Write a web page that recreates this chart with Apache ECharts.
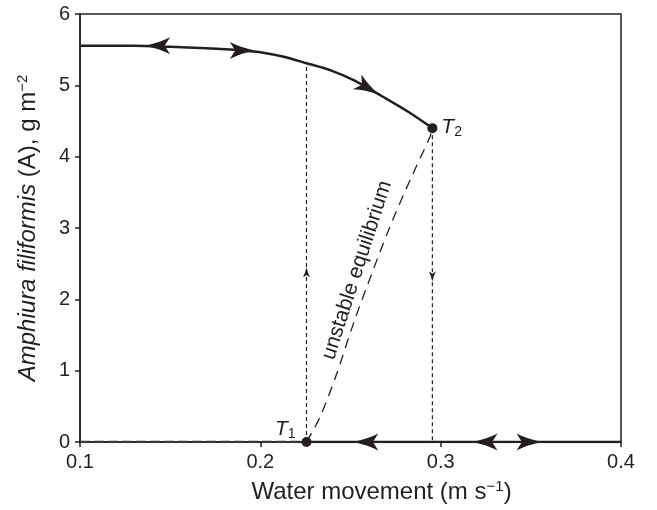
<!DOCTYPE html>
<html>
<head>
<meta charset="utf-8">
<script src="https://cdn.jsdelivr.net/npm/echarts@6/dist/echarts.min.js"></script>
<style>
  html, body { margin: 0; padding: 0; background: #fff; }
  #main { width: 657px; height: 510px; }
</style>
</head>
<body>
<div id="main"></div>
<script>
// thresholds T1 (lower) and T2 (upper)
var t1 = [0.2256, 0];
var t2 = [0.2954, 4.40];

// stable upper branch
var upperBranch = [
  [0.10, 5.555], [0.13, 5.555], [0.15, 5.54], [0.17, 5.52], [0.19, 5.49],
  [0.20, 5.465], [0.213, 5.40], [0.2256, 5.31], [0.239, 5.21], [0.252, 5.07],
  [0.268, 4.84], [0.282, 4.63], [0.2954, 4.40]
];

// unstable equilibrium (dashed)
var unstable = [
  [0.2256, 0], [0.2331, 0.35], [0.2424, 0.96], [0.2516, 1.66], [0.2618, 2.36],
  [0.2719, 3.02], [0.2830, 3.67], [0.2941, 4.28], [0.2954, 4.40]
];

// big arrows on the stable branches: [x, y, rotation]
var bigArrows = [
  [0.143, 5.555, 90], [0.19, 5.49, -90], [0.2597, 4.96, -120],
  [0.2585, 0, 90], [0.3246, 0, 90], [0.349, 0, -90]
];
// small arrows on the jump lines
var smallArrows = [
  [0.2256, 2.38, 0], [0.2954, 2.32, 180]
];

var xTicks = ['0.1', '0.2', '0.3', '0.4'];

var arrowPath = 'path://M8,0 Q10.8,13 16,23 L8,18 L0,23 Q5.2,13 8,0 Z';
var ink = '#231f20';
var font = 'Liberation Sans';

var myChart = echarts.init(document.getElementById('main'));

function arrowData(list){
  return list.map(function(a){
    return { value: [a[0], a[1]], symbolRotate: a[2] };
  });
}

var option = {
  animation: false,
  grid: {
    left: 80, right: 36, top: 14, bottom: 68,
    show: true, borderColor: ink, borderWidth: 1.5, backgroundColor: 'transparent'
  },
  xAxis: {
    type: 'value', min: 0.1, max: 0.4, interval: 0.1,
    name: '{n|Water movement (m s}{s|−1}{n|)}',
    nameLocation: 'middle', nameGap: 37,
    nameTextStyle: {
      fontFamily: font, fontSize: 24, color: ink, padding: [0, 0, 0, 62],
      rich: {
        n: { fontFamily: font, fontSize: 24, color: ink, lineHeight: 27 },
        s: { fontFamily: font, fontSize: 15, color: ink, verticalAlign: 'top', lineHeight: 15 }
      }
    },
    axisLine: { lineStyle: { color: ink, width: 1.5 } },
    axisTick: { length: 5, lineStyle: { color: ink, width: 1.5 } },
    axisLabel: {
      margin: 10, fontFamily: font, fontSize: 20, color: ink,
      formatter: function(v){ return xTicks[Math.round((v - 0.1) * 10)]; }
    },
    splitLine: { show: false }
  },
  yAxis: {
    type: 'value', min: 0, max: 6, interval: 1,
    name: '{i|Amphiura filiformis}{n| (A), g m}{s|−2}',
    nameLocation: 'middle', nameGap: 39, nameRotate: 90,
    nameTextStyle: {
      fontFamily: font, fontSize: 24, color: ink,
      rich: {
        i: { fontFamily: font, fontSize: 24, fontStyle: 'italic', color: ink, lineHeight: 26 },
        n: { fontFamily: font, fontSize: 24, color: ink, lineHeight: 26 },
        s: { fontFamily: font, fontSize: 15, color: ink, verticalAlign: 'top', lineHeight: 15 }
      }
    },
    axisLine: { lineStyle: { color: ink, width: 1.5 } },
    axisTick: { length: 5, lineStyle: { color: ink, width: 1.5 } },
    axisLabel: { margin: 10, fontFamily: font, fontSize: 20, color: ink },
    splitLine: { show: false }
  },
  series: [
    {
      type: 'line', data: upperBranch, smooth: 0.3, showSymbol: false,
      lineStyle: { color: ink, width: 2.5 }, z: 3
    },
    {
      type: 'line', data: [t1, [0.4, 0]], showSymbol: false,
      lineStyle: { color: ink, width: 2.5 }, z: 3
    },
    {
      type: 'line', data: [[0.1, 0], t1], showSymbol: false,
      lineStyle: { color: '#3a3a3a', width: 2.5, type: [10, 4] }, z: 3
    },
    {
      type: 'line', data: unstable, smooth: 0.3, showSymbol: false,
      lineStyle: { color: ink, width: 1.3, type: [10, 7] }, z: 2
    },
    {
      type: 'line', data: [t1, [t1[0], 5.31]], showSymbol: false,
      lineStyle: { color: ink, width: 1.2, type: [4, 3] }, z: 2
    },
    {
      type: 'line', data: [t2, [t2[0], 0]], showSymbol: false,
      lineStyle: { color: ink, width: 1.2, type: [4, 3] }, z: 2
    },
    {
      type: 'scatter', data: arrowData(bigArrows), symbol: arrowPath,
      symbolSize: [17, 25], itemStyle: { color: ink, opacity: 1 }, z: 5
    },
    {
      type: 'scatter', data: arrowData(smallArrows), symbol: arrowPath,
      symbolSize: [7, 10], itemStyle: { color: ink, opacity: 1 }, z: 5
    },
    {
      type: 'scatter', symbolSize: 10, itemStyle: { color: ink, opacity: 1 }, z: 6,
      data: [
        { value: t1, label: { show: true, position: 'left', offset: [-1, -13], formatter: '{t|T}{s|1}' } },
        { value: t2, label: { show: true, position: 'right', offset: [-1, -1], formatter: '{t|T}{s|2}' } }
      ],
      label: {
        color: ink,
        rich: {
          t: { fontFamily: font, fontSize: 21, fontStyle: 'italic', color: ink, lineHeight: 24 },
          s: { fontFamily: font, fontSize: 14, color: ink, verticalAlign: 'bottom', lineHeight: 14 }
        }
      }
    },
    {
      type: 'scatter', symbolSize: 0, z: 4, itemStyle: { opacity: 1 },
      data: [{ value: [0.2536, 2.41] }],
      label: {
        show: true, position: 'inside', rotate: 72, formatter: 'unstable equilibrium',
        fontFamily: font, fontSize: 21, color: ink
      }
    }
  ]
};
myChart.setOption(option, true);
</script>
</body>
</html>
